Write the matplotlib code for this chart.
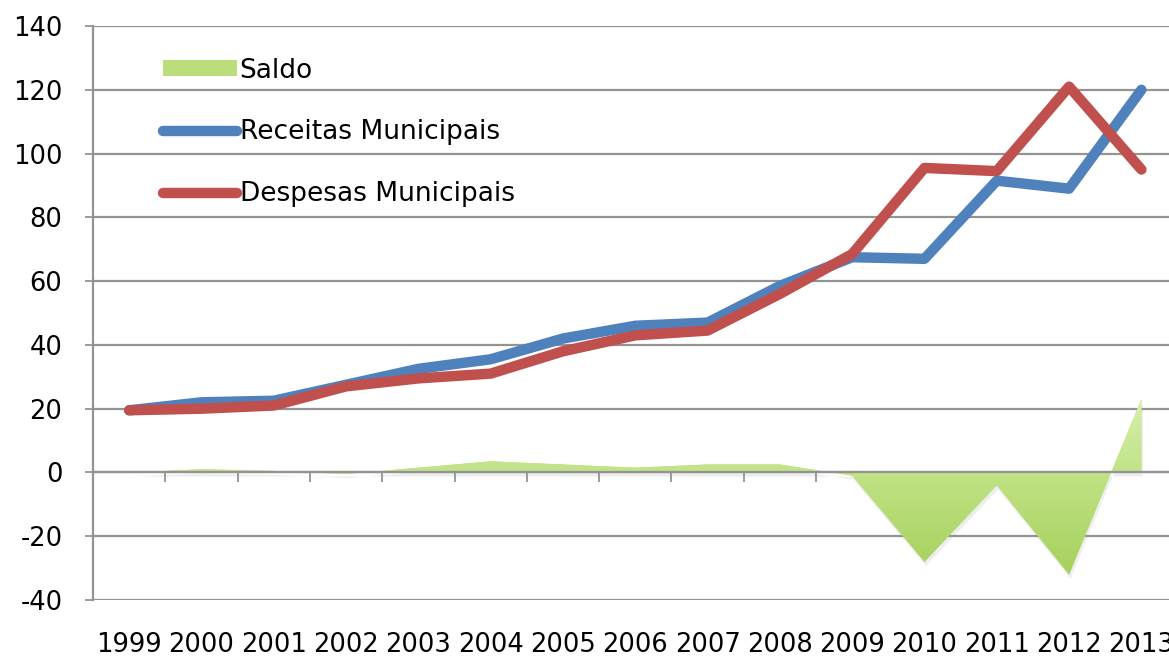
import numpy as np
import matplotlib
matplotlib.use("Agg")
import matplotlib.pyplot as plt
from matplotlib.colors import LinearSegmentedColormap
from matplotlib.lines import Line2D
from matplotlib.patches import Patch, Polygon
import matplotlib.patheffects as pe

plt.rcParams["font.family"] = ["DejaVu Sans"]
plt.rcParams["axes.unicode_minus"] = False

anos = ["1999", "2000", "2001", "2002", "2003", "2004", "2005", "2006",
        "2007", "2008", "2009", "2010", "2011", "2012", "2013"]
receitas = [19.5, 22, 22.5, 27.5, 32.5, 35.5, 42, 46, 47, 58.5, 67.5, 67, 91.5, 89, 120]
despesas = [19.5, 20, 21, 27, 29.5, 31, 38, 43, 44.5, 56, 68.5, 95.5, 94.5, 121, 95]
saldo = [0, 1, 0.5, -0.5, 1.5, 3.5, 2.5, 1.5, 2.5, 2.5, -1, -28, -4, -32, 23]
y_ticks = [-40, -20, 0, 20, 40, 60, 80, 100, 120, 140]

AZUL, VERMELHO, VERDE = "#4f81bd", "#c0504d", "#b9de7a"
GRELHA = "#939393"

x = np.arange(len(anos))

fig = plt.figure(figsize=(11.69, 6.59), dpi=100)
# axes run a little past the right edge, so the last column is cut off
ax = fig.add_axes([0.0796, 0.0895, 0.9277, 0.871])
ax.set_xlim(-0.5, len(anos) - 0.5)
ax.set_ylim(-40, 140)

# saldo area: flat fill with a soft shadow, then a vertical gradient clipped to it
verts = list(zip(x, saldo)) + [(x[-1], 0), (x[0], 0)]
area = Polygon(verts, closed=True, facecolor=VERDE, edgecolor="none", zorder=2,
               path_effects=[pe.SimplePatchShadow(offset=(1, -3), shadow_rgbFace="#909090", alpha=0.15),
                             pe.Normal()])
ax.add_patch(area)
grad = LinearSegmentedColormap.from_list("verde", ["#a6d15c", "#bde07f", "#d6efae"])
img = ax.imshow(np.linspace(0, 1, 256).reshape(-1, 1), cmap=grad, aspect="auto",
                extent=[x[0], x[-1], min(saldo), max(saldo)], origin="lower", zorder=2.1)
img.set_clip_path(area)

ax.plot(x, receitas, color=AZUL, lw=7.5, solid_capstyle="round", solid_joinstyle="round", zorder=3)
ax.plot(x, despesas, color=VERMELHO, lw=7.5, solid_capstyle="round", solid_joinstyle="round", zorder=4)

# gridlines and axes in the spreadsheet style
ax.set_yticks(y_ticks)
ax.set_yticklabels([str(v) for v in y_ticks])
ax.yaxis.grid(True, color=GRELHA, lw=1.6)
ax.set_axisbelow(True)
ax.tick_params(axis="y", direction="out", length=6, width=1.3, color=GRELHA,
               labelsize=18.5, pad=16)
for s in ["top", "right"]:
    ax.spines[s].set_visible(False)
ax.spines["left"].set_color(GRELHA)
ax.spines["left"].set_linewidth(1.6)
ax.spines["bottom"].set_position(("data", 0))
ax.spines["bottom"].set_color(GRELHA)
ax.spines["bottom"].set_linewidth(1.6)
ax.set_xticks(np.arange(-0.5, len(anos), 1.0))
ax.tick_params(axis="x", direction="out", length=7, width=1.3, color=GRELHA, labelbottom=False)

# year labels sit below the plot area
sec = ax.secondary_xaxis(0)
sec.set_xticks(x)
sec.set_xticklabels(anos)
sec.tick_params(length=0, labelsize=18.5, pad=23)
sec.spines["bottom"].set_visible(False)

handles = [Patch(facecolor=VERDE, edgecolor="none"),
           Line2D([], [], color=AZUL, lw=7.5, solid_capstyle="round"),
           Line2D([], [], color=VERMELHO, lw=7.5, solid_capstyle="round")]
ax.legend(handles, ["Saldo", "Receitas Municipais", "Despesas Municipais"],
          loc="upper left", bbox_to_anchor=(0.0645, 0.945), frameon=False,
          fontsize=19, handlelength=2.8, handletextpad=0.1, labelspacing=1.36,
          handleheight=0.55, borderpad=0, borderaxespad=0)

fig.savefig("out.png", dpi=100)
